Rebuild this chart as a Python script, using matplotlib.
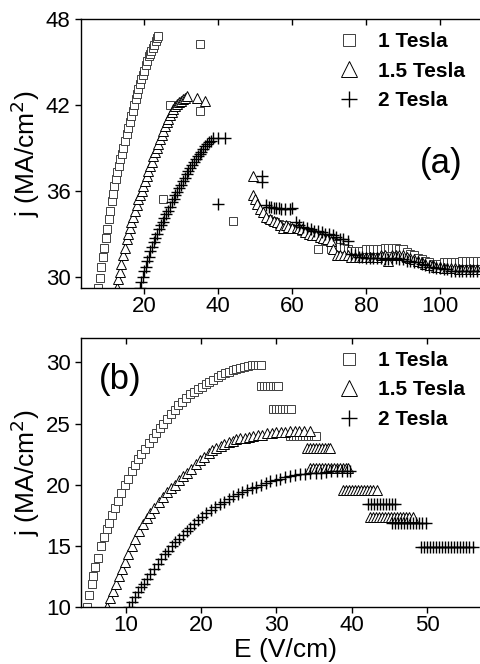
import matplotlib
matplotlib.use("Agg")
import matplotlib.pyplot as plt

plt.rcParams['font.family'] = ['Liberation Sans', 'DejaVu Sans']

# ---------------- panel (a): (E, j) pairs ----------------
a_1T = [(7.6, 29.2), (8.0, 29.9), (8.5, 30.7), (8.9, 31.4), (9.3, 32.0), (9.7, 32.7), (10.1, 33.3),
        (10.5, 34.0), (10.9, 34.6), (11.3, 35.3), (11.6, 35.8), (12.0, 36.3), (12.4, 36.8), (12.8, 37.3),
        (13.2, 37.7), (13.6, 38.2), (14.0, 38.6), (14.4, 39.0), (14.8, 39.5), (15.3, 40.0), (15.7, 40.4),
        (16.1, 40.8), (16.5, 41.2), (16.9, 41.6), (17.3, 42.0), (17.7, 42.4), (18.1, 42.8), (18.5, 43.1),
        (18.9, 43.5), (19.3, 43.8), (19.7, 44.1), (20.1, 44.4), (20.5, 44.8), (20.9, 45.1), (21.3, 45.4),
        (21.6, 45.6), (22.0, 45.8), (22.4, 46.0), (22.8, 46.2), (23.2, 46.5), (23.6, 46.7), (23.9, 46.8),
        (27.0, 42.0), (35.0, 46.3), (35.0, 41.6), (25.0, 35.4), (44.1, 33.9),
        (53.6, 34.0), (54.5, 33.9), (55.5, 33.8), (56.5, 33.7), (57.5, 33.6), (58.5, 33.6), (59.5, 33.4),
        (60.5, 33.3), (61.5, 33.3), (62.5, 33.2), (63.5, 33.1), (64.5, 33.1), (65.5, 33.0), (67.1, 31.9),
        (68, 32.6), (69, 32.5), (70.5, 31.9), (71, 32.4), (72, 32.3), (73, 32.1), (74, 32.0), (75, 31.9),
        (76, 31.8), (77, 31.8), (78, 31.8), (79, 31.8), (80, 31.9), (81, 31.9), (82, 31.9), (83, 31.9),
        (84, 31.9), (85, 32.0), (86, 32.0), (87, 32.0), (88, 32.0), (89, 31.9), (90, 31.9), (91, 31.7),
        (92, 31.6), (93, 31.5), (94, 31.3), (95, 31.2), (96, 31.1), (97, 31.0), (98, 30.9), (99, 30.9),
        (100, 30.9), (101, 31.0), (102, 31.0), (103, 31.0), (104, 31.0), (105, 31.0), (106, 31.1),
        (107, 31.1), (108, 31.1), (109, 31.1), (110, 31.1), (111, 31.1)]

a_15T = [(12.6, 29.2), (13.0, 29.8), (13.4, 30.3), (13.9, 30.9), (14.4, 31.5), (14.8, 32.0), (15.3, 32.6),
         (15.7, 33.0), (16.2, 33.4), (16.6, 33.8), (17.1, 34.2), (17.5, 34.6), (18.0, 35.0), (18.5, 35.4),
         (18.9, 35.7), (19.4, 36.0), (19.8, 36.3), (20.3, 36.7), (20.7, 37.0), (21.2, 37.4), (21.6, 37.7),
         (22.1, 38.0), (22.5, 38.4), (23.0, 38.7), (23.4, 39.0), (23.9, 39.3), (24.3, 39.6), (24.8, 39.9),
         (25.2, 40.2), (25.7, 40.5), (26.1, 40.8), (26.6, 41.0), (27.0, 41.3), (27.5, 41.5), (27.9, 41.7),
         (28.4, 41.9), (28.9, 42.1), (29.4, 42.2), (29.9, 42.3), (30.4, 42.4), (31.0, 42.5), (31.5, 42.6),
         (34.2, 42.5), (36.5, 42.3),
         (49.5, 37.0), (49.5, 35.7), (50.0, 35.4), (50.6, 35.1), (51.4, 34.7), (52.2, 34.5), (53.0, 34.2),
         (54.0, 34.0), (55.0, 33.9), (56.0, 33.8), (56.8, 33.6), (57.5, 33.4), (58.3, 33.6), (59.0, 33.5),
         (60.0, 33.4), (61.3, 33.5), (62.0, 33.4), (62.7, 33.3), (63.5, 33.1), (64.5, 33.0), (65.5, 32.9),
         (66.5, 32.9), (67.5, 32.8), (68.5, 32.7), (69.5, 32.6), (70.5, 32.5), (71.0, 31.9), (72.1, 31.5),
         (73.0, 31.5), (74.0, 31.5), (75.0, 31.5), (76.0, 31.4), (77.0, 31.4), (78.0, 31.4), (79.0, 31.4),
         (80.0, 31.4), (81.0, 31.4), (82.0, 31.4), (83.0, 31.4), (84.0, 31.5), (85.0, 31.5), (86.0, 31.1),
         (87.0, 31.5), (88.0, 31.5), (89.0, 31.5), (90.0, 31.5), (91.0, 31.4), (92.0, 31.3), (93.0, 31.2),
         (94.0, 31.1), (95.0, 31.0), (96.0, 30.9), (97.3, 30.8), (98.0, 30.8), (99.0, 30.7), (100.0, 30.7),
         (101.0, 30.6), (102.0, 30.6), (103.0, 30.6), (104.0, 30.6), (105.0, 30.5), (106.0, 30.5),
         (107.0, 30.5), (108.0, 30.5), (109.0, 30.5), (110.0, 30.5), (111.0, 30.5)]

a_2T = [(18.9, 29.2), (19.3, 29.6), (19.7, 30.0), (20.1, 30.4), (20.5, 30.7), (20.9, 31.1), (21.3, 31.4),
        (21.7, 31.8), (22.1, 32.1), (22.6, 32.4), (23.1, 32.7), (23.6, 33.0), (24.1, 33.3), (24.6, 33.6),
        (25.0, 33.8), (25.5, 34.1), (26.0, 34.4), (26.5, 34.6), (27.0, 34.9), (27.5, 35.2), (28.0, 35.4),
        (28.5, 35.7), (29.0, 35.9), (29.5, 36.2), (30.0, 36.4), (30.5, 36.7), (31.0, 36.9), (31.5, 37.2),
        (32.0, 37.4), (32.5, 37.6), (33.0, 37.8), (33.5, 38.0), (34.0, 38.2), (34.5, 38.4), (35.0, 38.6),
        (35.5, 38.7), (36.0, 38.9), (36.5, 39.1), (37.0, 39.3), (37.5, 39.4), (38.0, 39.5), (38.7, 39.7),
        (40.0, 39.7), (41.8, 39.7), (40.1, 35.1), (60.0, 34.8),
        (51.8, 37.0), (52.0, 36.6), (53, 35.0), (53.7, 34.9), (54.4, 34.9), (55, 34.8), (55.7, 34.8),
        (56.4, 34.8), (57, 34.7), (58, 34.7), (59.5, 34.7), (61, 33.8), (62, 33.6), (63, 33.5), (64, 33.4),
        (65, 33.3), (66, 33.2), (67, 33.2), (68, 33.1), (69, 33.0), (70, 33.0), (71, 32.9), (72, 32.8),
        (73.0, 32.6), (73.9, 32.6), (75, 32.5), (76, 31.6), (77, 31.5), (78, 31.4), (79, 31.4), (80, 31.3),
        (81, 31.3), (82, 31.3), (83, 31.3), (84, 31.3), (85, 31.2), (86, 31.2), (87, 31.3), (88, 31.3),
        (89, 31.2), (90, 31.2), (91, 31.1), (92, 31.1), (93, 31.0), (94, 31.0), (95, 30.9), (96, 30.8),
        (97, 30.7), (98, 30.7), (99, 30.6), (100, 30.6), (101, 30.5), (102, 30.5), (103, 30.4), (104, 30.4),
        (105, 30.4), (106, 30.4), (107, 30.4), (108, 30.4), (109, 30.4), (110, 30.4), (111, 30.4)]

# ---------------- panel (b) ----------------
b_1T = [(4.9, 10.0), (5.2, 11.0), (5.5, 11.9), (5.7, 12.5), (6.0, 13.3), (6.3, 14.0), (6.75, 15.0),
        (7.1, 15.7), (7.5, 16.4), (7.8, 16.9), (8.2, 17.5), (8.6, 18.1), (9.0, 18.7), (9.4, 19.3),
        (9.9, 20.0), (10.3, 20.5), (10.8, 21.1), (11.2, 21.6), (11.7, 22.1), (12.1, 22.5), (12.6, 22.9),
        (13.1, 23.4), (13.6, 23.8), (14.0, 24.2), (14.5, 24.6), (15.0, 25.0), (15.5, 25.4), (16.0, 25.8),
        (16.5, 26.1), (17.0, 26.5), (17.5, 26.8), (18.0, 27.1), (18.6, 27.4), (19.1, 27.6), (19.6, 27.8),
        (20.1, 28.0), (20.6, 28.2), (21.1, 28.4), (21.6, 28.6), (22.2, 28.8), (22.7, 28.95), (23.2, 29.1),
        (23.7, 29.2), (24.2, 29.35), (24.7, 29.45), (25.2, 29.55), (25.7, 29.65), (26.2, 29.7),
        (26.7, 29.75), (27.2, 29.8), (27.6, 29.8), (28.0, 29.8),
        (27.9, 28.1), (28.3, 28.1), (28.7, 28.1), (29.1, 28.1), (29.5, 28.1), (29.9, 28.1), (30.2, 28.1),
        (29.5, 26.2), (29.9, 26.2), (30.3, 26.2), (30.7, 26.2), (31.1, 26.2), (31.5, 26.2), (32.0, 26.2),
        (31.8, 24.0), (32.2, 24.0), (32.6, 24.0), (33.0, 24.0), (33.4, 24.0), (33.8, 24.0), (34.2, 24.0),
        (34.6, 24.0), (35.0, 24.0), (35.3, 24.0)]

b_15T = [(7.5, 10.0), (7.9, 10.7), (8.3, 11.3), (8.7, 11.9), (9.1, 12.5), (9.5, 13.1), (9.9, 13.7),
         (10.3, 14.3), (10.8, 15.0), (11.3, 15.6), (11.8, 16.2), (12.3, 16.8), (12.8, 17.3), (13.3, 17.7),
         (13.8, 18.1), (14.4, 18.6), (15.0, 19.0), (15.5, 19.4), (16.0, 19.7), (16.6, 20.0), (17.1, 20.4),
         (17.6, 20.7), (18.2, 21.0), (18.7, 21.3), (19.3, 21.7), (19.9, 22.0), (20.4, 22.3), (21.0, 22.6),
         (21.5, 22.8), (22.0, 23.0), (22.6, 23.2), (23.1, 23.35), (23.7, 23.5), (24.2, 23.6), (24.7, 23.7),
         (25.2, 23.8), (25.8, 23.85), (26.3, 23.9), (26.9, 24.0), (27.5, 24.05), (28.1, 24.1), (28.8, 24.2),
         (29.4, 24.25), (30.0, 24.3), (30.6, 24.33), (31.2, 24.35), (31.8, 24.38), (32.4, 24.4),
         (33.0, 24.4), (33.7, 24.4), (34.4, 24.4),
         (34.0, 23.0), (34.4, 23.0), (34.8, 23.0), (35.2, 23.0), (35.6, 23.0), (36.0, 23.0), (36.4, 23.0),
         (36.8, 23.0), (37.1, 23.0),
         (34.4, 21.4), (34.8, 21.4), (35.2, 21.4), (35.6, 21.4), (36.0, 21.4), (36.4, 21.4), (36.8, 21.4),
         (37.2, 21.4), (37.6, 21.4), (38.0, 21.4), (38.4, 21.4), (38.8, 21.4), (39.2, 21.4), (39.5, 21.4),
         (38.8, 19.6), (39.2, 19.6), (39.6, 19.6), (40.0, 19.6), (40.4, 19.6), (40.8, 19.6), (41.2, 19.6),
         (41.6, 19.6), (42.0, 19.6), (42.4, 19.6), (42.8, 19.6), (43.3, 19.6),
         (42.4, 17.4), (42.8, 17.4), (43.2, 17.4), (43.6, 17.4), (44.0, 17.4), (44.4, 17.4), (44.8, 17.4),
         (45.2, 17.4), (45.6, 17.4), (46.0, 17.4), (46.4, 17.4), (46.8, 17.4), (47.2, 17.4), (47.6, 17.4),
         (48.1, 17.4)]

b_2T = [(10.4, 10.0), (10.8, 10.4), (11.2, 10.8), (11.6, 11.2), (12.0, 11.6), (12.4, 11.9), (12.9, 12.3),
        (13.3, 12.7), (13.8, 13.1), (14.3, 13.5), (14.7, 13.9), (15.2, 14.3), (15.6, 14.6), (16.1, 15.0),
        (16.6, 15.3), (17.1, 15.6), (17.6, 15.9), (18.1, 16.2), (18.6, 16.5), (19.1, 16.8), (19.6, 17.1),
        (20.1, 17.4), (20.7, 17.7), (21.3, 17.9), (21.9, 18.2), (22.5, 18.4), (23.1, 18.6), (23.7, 18.85),
        (24.3, 19.05), (24.9, 19.25), (25.5, 19.4), (26.1, 19.55), (26.7, 19.7), (27.3, 19.85), (28.0, 20.0),
        (28.6, 20.15), (29.2, 20.3), (29.9, 20.4), (30.5, 20.5), (31.1, 20.6), (31.8, 20.7), (32.4, 20.8),
        (33.1, 20.85), (33.8, 20.9), (34.5, 20.95), (35.2, 21.0), (35.9, 21.0), (36.6, 21.05), (37.3, 21.1),
        (38.0, 21.1), (38.7, 21.1), (39.3, 21.1), (39.8, 21.1),
        (42.1, 18.45), (42.5, 18.45), (42.9, 18.45), (43.3, 18.45), (43.7, 18.45), (44.1, 18.45),
        (44.5, 18.45), (44.9, 18.45), (45.3, 18.45), (45.7, 18.45),
        (45.3, 16.9), (45.7, 16.9), (46.1, 16.9), (46.5, 16.9), (46.9, 16.9), (47.3, 16.9), (47.7, 16.9),
        (48.1, 16.9), (48.5, 16.9), (48.9, 16.9), (49.3, 16.9), (49.9, 16.9),
        (49.2, 14.9), (49.6, 14.9), (50.0, 14.9), (50.4, 14.9), (50.8, 14.9), (51.2, 14.9), (51.6, 14.9),
        (52.0, 14.9), (52.4, 14.9), (52.8, 14.9), (53.2, 14.9), (53.6, 14.9), (54.0, 14.9), (54.4, 14.9),
        (54.8, 14.9), (55.2, 14.9), (55.6, 14.9), (56.1, 14.9)]

labels = ["1 Tesla", "1.5 Tesla", "2 Tesla"]

fig = plt.figure(figsize=(4.8, 6.64), dpi=100)
ax1 = fig.add_axes([0.169, 0.5663, 0.831, 0.4047])
ax2 = fig.add_axes([0.169, 0.0858, 0.831, 0.4052])


def draw(ax, s1, s2, s3):
    E1, j1 = zip(*s1)
    E2, j2 = zip(*s2)
    E3, j3 = zip(*s3)
    ax.plot(E1, j1, ls='none', marker='s', ms=6, mfc='white', mec='#404040', mew=0.7, label=labels[0])
    ax.plot(E2, j2, ls='none', marker='^', ms=7.5, mfc='white', mec='black', mew=0.7, label=labels[1])
    ax.plot(E3, j3, ls='none', marker='+', ms=8, mec='black', mew=1.0, label=labels[2])
    for s in ['left', 'bottom', 'top']:
        ax.spines[s].set_linewidth(1.0)
    ax.spines['right'].set_visible(False)
    ax.tick_params(axis='both', which='major', direction='out', length=4, width=1, labelsize=16)
    ax.tick_params(axis='x', top=True, pad=2)
    ax.legend(loc='upper left', frameon=False, prop={'weight': 'bold', 'size': 15},
              handlelength=1.0, handletextpad=0.9, labelspacing=0.5, borderpad=0,
              markerscale=1.45, bbox_to_anchor=(0.62, 0.99))
    ax.set_ylabel("j (MA/cm$^2$)", fontsize=19, labelpad=3)
    # top ticks point inward
    for t in ax.xaxis.get_major_ticks():
        t.tick2line.set_marker(3)


draw(ax1, a_1T, a_15T, a_2T)
ax1.set_xlim(3, 110.8)
ax1.set_ylim(29.2, 48)
ax1.set_xticks([20, 40, 60, 80, 100])
ax1.set_yticks([30, 36, 42, 48])
ax1.text(0.955, 0.465, "(a)", transform=ax1.transAxes, fontsize=25, ha='right', va='center')

draw(ax2, b_1T, b_15T, b_2T)
ax2.set_xlim(4.1, 57)
ax2.set_ylim(10, 32)
ax2.set_xticks([10, 20, 30, 40, 50])
ax2.set_yticks([10, 15, 20, 25, 30])
ax2.text(0.045, 0.844, "(b)", transform=ax2.transAxes, fontsize=25, ha='left', va='center')
fig.text(0.594, 0.021, "E (V/cm)", fontsize=19, ha='center', va='center')

fig.savefig("out.png", dpi=100)
